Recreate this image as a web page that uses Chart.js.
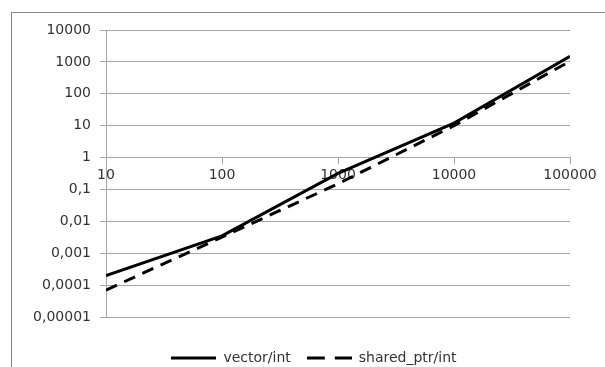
<!DOCTYPE html>
<html>
<head>
<meta charset="utf-8">
<script src="https://cdn.jsdelivr.net/npm/chart.js@4.4.1/dist/chart.umd.min.js"></script>
<style>
  html, body { margin: 0; padding: 0; background: #fff; overflow: hidden; }
  #wrap { width: 605px; height: 375px; }
</style>
</head>
<body>
<div id="wrap"><canvas id="myChart" width="605" height="375"></canvas></div>
<script>
// データ
const sizes = [10, 100, 1000, 10000, 100000];
const vectorInt = [0.0002, 0.0035, 0.32, 12, 1500];
const sharedPtrInt = [0.00007, 0.0032, 0.15, 10, 1050];

const xTicks = [10, 100, 1000, 10000, 100000];
const xTickLabels = ['10', '100', '1000', '10000', '100000'];
const yTicks = [0.00001, 0.0001, 0.001, 0.01, 0.1, 1, 10, 100, 1000, 10000];
const yTickLabels = ['0,00001', '0,0001', '0,001', '0,01', '0,1', '1', '10', '100', '1000', '10000'];

const gridColor = '#a6a6a6';

Chart.defaults.font.family = "'DejaVu Sans', sans-serif";
Chart.defaults.font.size = 14;
Chart.defaults.color = '#333';

// 凡例用の線サンプル（実線と破線）
function lineSample(dash) {
    const c = document.createElement('canvas');
    c.width = 45;
    c.height = 4;
    const g = c.getContext('2d');
    g.strokeStyle = '#000';
    g.lineWidth = 3;
    g.setLineDash(dash);
    g.beginPath();
    g.moveTo(0, 2);
    g.lineTo(45, 2);
    g.stroke();
    return c;
}

// 外枠を描き、凡例を少し右へずらす
const frame = {
    id: 'frame',
    afterLayout(chart) {
        chart.legend.left += 12;
        chart.legend.right += 12;
    },
    beforeDraw(chart) {
        const ctx = chart.ctx;
        ctx.save();
        ctx.fillStyle = '#fff';
        ctx.fillRect(0, 0, chart.width, chart.height);
        ctx.strokeStyle = '#888';
        ctx.lineWidth = 1;
        ctx.strokeRect(11.5, 12.5, 700, 500);
        ctx.restore();
    }
};

const ctx = document.getElementById('myChart').getContext('2d');
const myChart = new Chart(ctx, {
    type: 'line',
    data: {
        datasets: [{
            label: 'vector/int',
            data: sizes.map((s, i) => ({x: s, y: vectorInt[i]})),
            borderColor: '#000',
            backgroundColor: '#000',
            borderWidth: 3,
            pointRadius: 0,
            pointStyle: lineSample([])
        }, {
            label: 'shared_ptr/int',
            data: sizes.map((s, i) => ({x: s, y: sharedPtrInt[i]})),
            borderColor: '#000',
            backgroundColor: '#000',
            borderWidth: 3,
            borderDash: [12, 8],
            pointRadius: 0,
            pointStyle: lineSample([18, 10])
        }]
    },
    options: {
        responsive: false,
        animation: false,
        layout: {
            padding: {left: 34, right: 35, top: 30, bottom: 0}
        },
        plugins: {
            tooltip: {enabled: false},
            legend: {
                position: 'bottom',
                title: {
                    display: true,
                    text: '',
                    font: {size: 10, lineHeight: 1},
                    padding: {top: 8, bottom: 0}
                },
                labels: {
                    usePointStyle: true,
                    pointStyleWidth: 45,
                    boxHeight: 14,
                    padding: 16,
                    color: '#333'
                }
            }
        },
        scales: {
            x: {
                type: 'logarithmic',
                min: 10,
                max: 100000,
                position: {y: 1},
                afterBuildTicks: scale => {
                    scale.ticks = xTicks.map(v => ({value: v}));
                },
                ticks: {
                    autoSkip: false,
                    maxRotation: 0,
                    padding: 3,
                    callback: (v, i) => xTickLabels[i]
                },
                grid: {
                    drawOnChartArea: false,
                    drawTicks: true,
                    tickLength: 6,
                    color: gridColor
                },
                border: {display: true, color: gridColor}
            },
            y: {
                type: 'logarithmic',
                min: 0.00001,
                max: 10000,
                afterBuildTicks: scale => {
                    scale.ticks = yTicks.map(v => ({value: v}));
                },
                afterFit: scale => {
                    scale.width = 72;
                },
                ticks: {
                    autoSkip: false,
                    padding: 9,
                    callback: (v, i) => yTickLabels[i]
                },
                grid: {
                    color: gridColor,
                    drawTicks: true,
                    tickLength: 6
                },
                border: {display: true, color: gridColor}
            }
        }
    },
    plugins: [frame]
});
</script>
</body>
</html>
